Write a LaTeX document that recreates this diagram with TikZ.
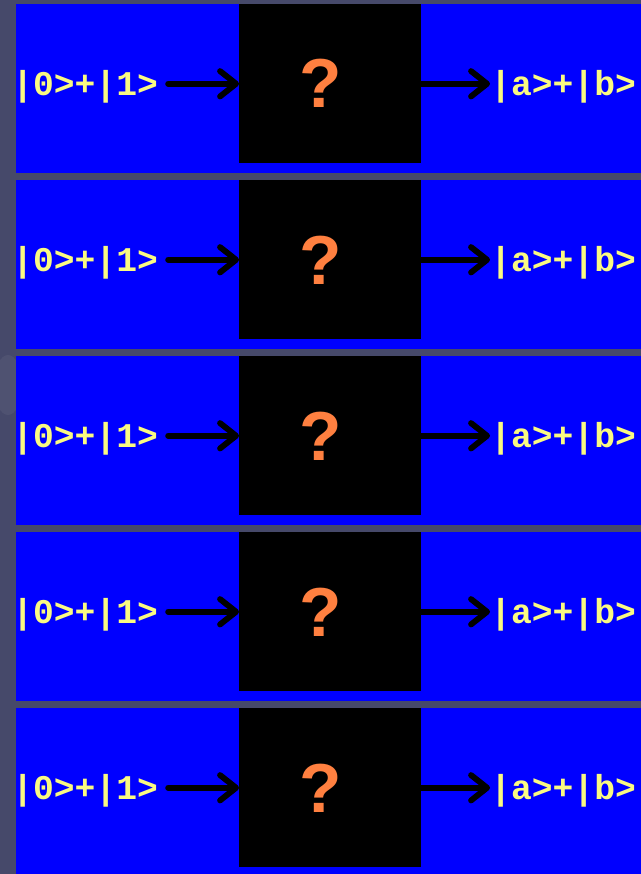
\documentclass[tikz,border=0pt]{standalone}
\usepackage{fontspec}
\usetikzlibrary{arrows.meta}
\newfontfamily\monofont{Liberation Mono}
\newfontfamily\qfont{Liberation Sans}
\definecolor{bgcol}{RGB}{70,73,106}
\definecolor{panelblue}{RGB}{0,0,255}
\definecolor{txtyellow}{RGB}{250,250,130}
\definecolor{qorange}{RGB}{255,128,64}
\tikzset{
  panel/.style={fill=panelblue, draw=none},
  blackbox/.style={fill=black, draw=none, minimum width=182*0.75pt, minimum height=159*0.75pt, inner sep=0, anchor=north west},
  ket/.style={text=txtyellow, font=\monofont\bfseries\fontsize{26}{26}\selectfont, inner sep=0},
  qmark/.style={text=qorange, font=\qfont\bfseries\fontsize{52}{52}\selectfont, inner sep=0, anchor=base},
  arr/.style={line width=4.4pt, -{Straight Barb[length=12pt, width=19pt, round]}, line cap=round}
}
\begin{document}
\begin{tikzpicture}[x=0.75pt, y=-0.75pt]
\fill[bgcol] (0,0) rectangle (641,874);
\useasboundingbox (0,0) rectangle (641,874);
\fill[white, opacity=0.05] (8,385) ellipse (14 and 30);
\foreach \i in {0,...,4} {
  \pgfmathsetmacro{\top}{4+176*\i}
  \fill[panelblue] (16,\top) rectangle (641,{min(\top+168.5,874)});
  \node[blackbox] (bx\i) at (239,\top) {};
  \node[ket, anchor=base west] (lt\i) at (12,\top+91) {|0>+|1>};
  \node[ket, anchor=base west] (rt\i) at (490,\top+91) {|a>+|b>};
  \node[qmark] (q\i) at (321,\top+104) {?};
  \draw[arr] ([xshift=7.5pt]lt\i.east |- bx\i.west) -- (bx\i.west);
  \draw[arr] (bx\i.east) -- (rt\i.west |- bx\i.east);
}
\end{tikzpicture}
\end{document}
